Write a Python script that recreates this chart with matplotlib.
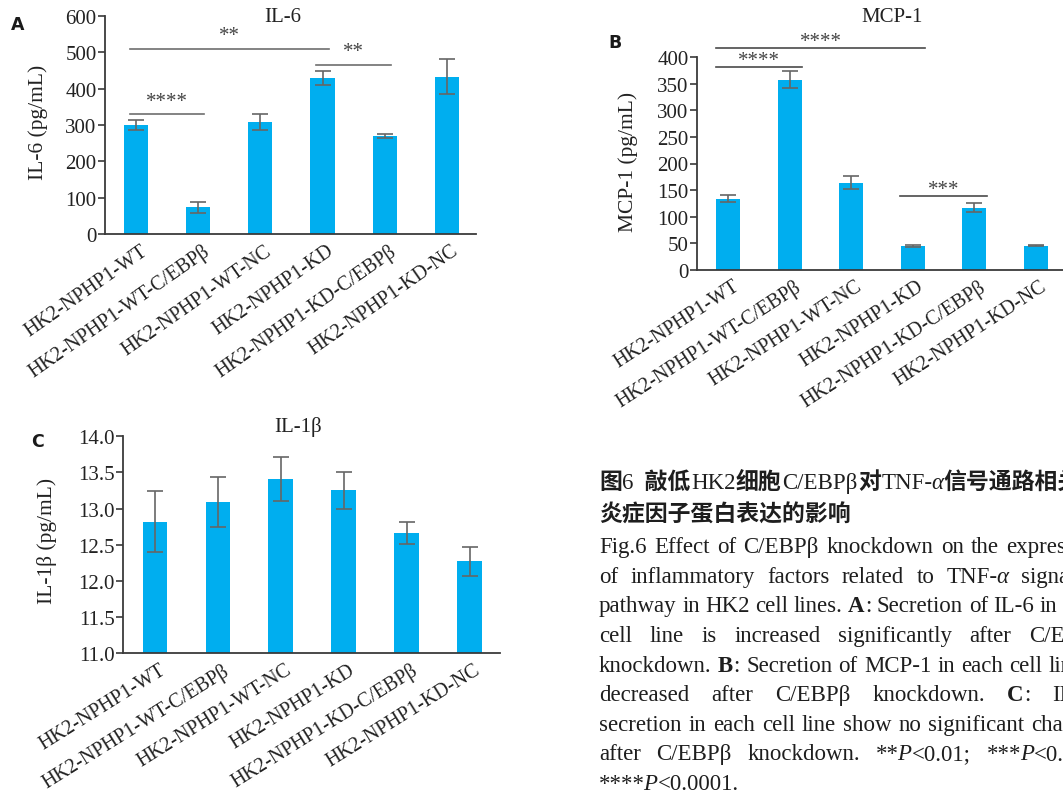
import matplotlib.pyplot as plt
from matplotlib import transforms
from matplotlib.ticker import FormatStrFormatter

plt.rcParams['font.family'] = ['Liberation Serif', 'Noto Sans CJK SC', 'DejaVu Sans']

groups = ["HK2-NPHP1-WT", "HK2-NPHP1-WT-C/EBPβ", "HK2-NPHP1-WT-NC",
          "HK2-NPHP1-KD", "HK2-NPHP1-KD-C/EBPβ", "HK2-NPHP1-KD-NC"]

il6_mean = [300, 73, 308, 430, 269, 433]
il6_err = [13, 14, 23, 20, 5, 48]
mcp1_mean = [134, 358, 164, 45, 117, 45]
mcp1_err = [6, 16, 12, 2, 8, 1]
il1b_mean = [12.82, 13.09, 13.41, 13.25, 12.66, 12.27]
il1b_err = [0.42, 0.35, 0.30, 0.25, 0.15, 0.20]

# brackets: (first group, last group, height, stars)
il6_sig = [(0, 3, 510, "**"), (3, 4, 466, "**"), (0, 1, 330, "****")]
mcp1_sig = [(0, 3, 417, "****"), (0, 1, 382, "****"), (3, 4, 138, "***")]

BAR = "#00AEEF"
DARK = "#3a3a3a"
W, H = 1063, 803

fig = plt.figure(figsize=(W / 100, H / 100), dpi=100)


def px_axes(left, top, right, bottom):
    return fig.add_axes([left / W, 1 - bottom / H, (right - left) / W, (bottom - top) / H])


def panel(ax, means, errs, ylim, yticks, xlim, fmt=None, rot=33):
    x = list(range(len(groups)))
    ax.bar(x, means, width=0.39, color=BAR, zorder=2)
    ax.errorbar(x, means, yerr=errs, fmt='none', ecolor="#666666",
                elinewidth=1.2, capsize=6, capthick=1.2, zorder=3)
    ax.set_ylim(*ylim)
    ax.set_xlim(*xlim)
    ax.set_yticks(yticks)
    if fmt:
        ax.yaxis.set_major_formatter(FormatStrFormatter(fmt))
    for s in ("top", "right"):
        ax.spines[s].set_visible(False)
    for s in ("left", "bottom"):
        ax.spines[s].set_color(DARK)
        ax.spines[s].set_linewidth(1.3)
    ax.tick_params(axis='y', length=5, width=1.2, color=DARK, labelsize=15,
                   labelcolor="#222222", pad=1)
    ax.tick_params(axis='x', length=0, pad=5)
    ax.set_xticks(x)
    ax.set_xticklabels(groups, rotation=rot, ha='right', rotation_mode='anchor',
                       fontsize=14.5, color="#222222")
    shift = transforms.ScaledTranslation(3 / 72, 0, fig.dpi_scale_trans)
    for lab in ax.get_xticklabels():
        lab.set_transform(lab.get_transform() + shift)


def brackets(ax, sig, overhang, lift, color):
    for i, j, y, stars in sig:
        ax.plot([i - overhang, j + overhang], [y, y], color=color, lw=1.2,
                clip_on=False, zorder=4)
        ax.annotate(stars, xy=((i + j) / 2, y), xytext=(0, lift),
                    textcoords='offset points', ha='center', va='baseline',
                    fontsize=15, color="#444444", annotation_clip=False)


ax_a = px_axes(105, 17, 476, 235)
panel(ax_a, il6_mean, il6_err, (0, 600), range(0, 601, 100), (-0.5, 5.47), rot=35)
brackets(ax_a, il6_sig, 0.1, 6, "#6e6e6e")

ax_b = px_axes(697, 58.3, 1080, 270.7)
panel(ax_b, mcp1_mean, mcp1_err, (0, 400), range(0, 401, 50), (-0.51, 5.72))
brackets(ax_b, mcp1_sig, 0.2, 1.5, "#4a4a4a")

ax_c = px_axes(123.3, 437.3, 500, 654)
panel(ax_c, il1b_mean, il1b_err, (11.0, 14.0), [11.0 + 0.5 * k for k in range(7)],
      (-0.5, 5.48), fmt='%.1f', rot=32)


def ftext(x, y, s, **kw):
    return fig.text(x / W, 1 - y / H, s, **kw)


ftext(283, 18, "IL-6", fontsize=15, ha='center', va='center', color="#222222")
ftext(892, 18, "MCP-1", fontsize=15, ha='center', va='center', color="#222222")
ftext(298, 427, "IL-1β", fontsize=15, ha='center', va='center', color="#222222")

ftext(38, 122, "IL-6 (pg/mL)", fontsize=15.5, rotation=90, ha='center', va='center', color="#222222")
ftext(628, 162, "MCP-1 (pg/mL)", fontsize=15.5, rotation=90, ha='center', va='center', color="#222222")
ftext(47, 541, "IL-1β (pg/mL)", fontsize=15.5, rotation=90, ha='center', va='center', color="#222222")

for letter, x, y in (("A", 18, 25), ("B", 615, 43), ("C", 37, 442)):
    ftext(x, y, letter, fontsize=12.5, fontweight='bold', family='DejaVu Sans',
          ha='center', va='center', color="#1a1a1a")

# figure caption, drawn piece by piece in pixel coordinates
renderer = fig.canvas.get_renderer()
PIX = transforms.IdentityTransform()
SERIF = {'family': 'Liberation Serif'}
ITAL = {'family': 'Liberation Serif', 'style': 'italic'}
CJK = {'family': 'Noto Sans CJK SC', 'fontweight': 'bold'}
X0 = 599
COL_W = 506


def draw_pieces(x, y, pieces, size):
    arts = []
    for s, props in pieces:
        if props is ITAL:
            x -= 2
        t = fig.text(x, H - y, s, transform=PIX, fontsize=size, ha='left',
                     va='baseline', color="#1e1e1e", **props)
        arts.append(t)
        x = t.get_window_extent(renderer).x1 + 0.5
    return arts, x


title_1 = [("图", CJK), ("6", SERIF), ("  敲低", CJK), ("HK2", SERIF), ("细胞", CJK),
           ("C/EBPβ", SERIF), ("对", CJK), ("TNF-", SERIF),
           ("α", ITAL), ("信号通路相关", CJK)]
title_2 = [("炎症因子蛋白表达的影响", CJK)]
draw_pieces(X0, 489, title_1, 16.5)
draw_pieces(X0, 522, title_2, 16.5)

caption = [
    "Fig.6  Effect of C/EBPβ knockdown on the expression",
    "of inflammatory factors related to TNF-α signaling",
    "pathway in HK2 cell lines. A: Secretion of IL-6 in each",
    "cell line is increased significantly after C/EBPβ",
    "knockdown. B: Secretion of MCP-1 in each cell line is",
    "decreased after C/EBPβ knockdown. C: IL-1β",
    "secretion in each cell line show no significant changes",
    "after C/EBPβ knockdown. **P<0.01; ***P<0.001;",
    "****P<0.0001.",
]


def word_pieces(w):
    if w in ("A:", "B:", "C:"):
        return [(w[0], dict(SERIF, fontweight='bold')), (":", SERIF)]
    if "P<" in w:
        k = w.index("P<")
        return [(w[:k], SERIF), ("P", ITAL), (w[k + 1:], SERIF)]
    if w == "TNF-α":
        return [("TNF-", SERIF), ("α", ITAL)]
    return [(w, SERIF)]


for n, line in enumerate(caption):
    y = 553.3 + n * 29.6
    words = line.split()
    placed = []
    x = X0
    for w in words:
        arts, end = draw_pieces(x, y, word_pieces(w), 16.5)
        placed.append((arts, end - x))
        x = end + 5
    if n < len(caption) - 1 and len(placed) > 1:
        total = sum(wd for _, wd in placed)
        gap = (COL_W - total) / (len(placed) - 1)
        x = X0
        for arts, wd in placed:
            dx = x - arts[0].get_position()[0]
            for t in arts:
                t.set_x(t.get_position()[0] + dx)
            x += wd + gap

fig.savefig("out.png", dpi=100)
